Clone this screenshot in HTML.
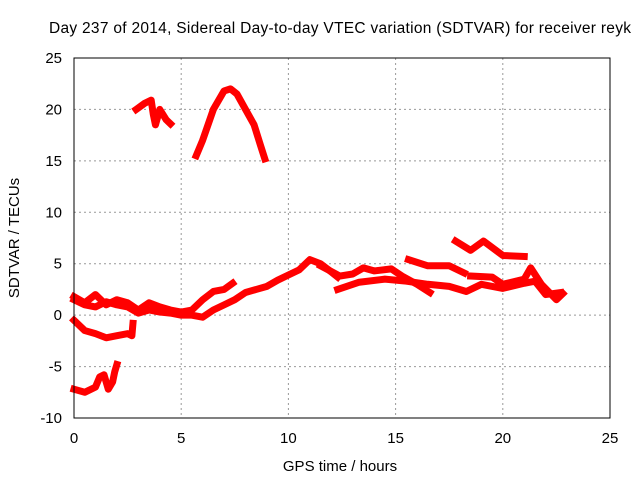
<!DOCTYPE html>
<html><head><meta charset="utf-8"><style>
body{margin:0;background:#fff}
svg{font-family:"Liberation Sans",sans-serif;font-size:15px}
</style></head><body>
<svg width="640" height="480">
<text x="340" y="33" text-anchor="middle" style="font-size:15.5px" textLength="582">Day 237 of 2014, Sidereal Day-to-day VTEC variation (SDTVAR) for receiver reyk</text>
<g id="grid"></g>
<g id="ticks"></g>
<g id="series"></g>
<rect x="74" y="58" width="536" height="360" fill="none" stroke="#000"/>
<text x="340" y="471" text-anchor="middle">GPS time / hours</text>
<text transform="translate(19,238) rotate(-90)" text-anchor="middle">SDTVAR / TECUs</text>
</svg>
<script>
const xTicks=[0,5,10,15,20,25];
const yTicks=[-10,-5,0,5,10,15,20,25];
const s1x=[0,0.5,1,1.5,2,2.5,3,3.5,4,4.5,5,5.5,6,6.5,7,7.4];
const s1y=[1.8,1.2,2,1.0,1.5,1.2,0.5,1.2,0.8,0.5,0.3,0.5,1.5,2.3,2.5,3.1];
const s2x=[0,0.5,1,1.5,2,2.5,3,3.5,4,4.5,5,5.5,6,6.5,7,7.5,8,8.5,9,9.5,10,10.5,11,11.5,12,12.3];
const s2y=[1.5,1,0.8,1.3,1,0.8,0.2,0.5,0.3,0.2,0,0,-0.2,0.5,1.0,1.5,2.2,2.5,2.8,3.4,3.9,4.4,5.4,5.0,4.2,3.7];
const s3x=[11.5,12.4,13,13.5,14,14.8,15.3,16,16.6];
const s3y=[4.8,3.8,4.0,4.6,4.3,4.5,3.8,3.0,2.2];
const s4x=[12.3,13.3,14.5,15.5,16.5,17.5,18.3,19,20,21,21.5,22,22.7];
const s4y=[2.5,3.2,3.5,3.3,3.0,2.8,2.3,3.0,2.6,3.1,3.3,2.0,2.2];
const s5x=[15.6,16.5,17.5,18.2];
const s5y=[5.4,4.8,4.8,4.1];
const s6x=[17.8,18.5,19.1,20,21];
const s6y=[7.2,6.3,7.2,5.8,5.7];
const s7x=[18.5,19.5,20,21,21.3,21.8,22.5,22.8];
const s7y=[3.8,3.7,3.0,3.5,4.6,3.0,1.5,2.1];
const s8x=[0,0.5,1,1.5,2,2.5,2.7,2.75];
const s8y=[-0.5,-1.5,-1.8,-2.2,-2.0,-1.8,-2.0,-0.8];
const s9x=[0,0.5,1,1.2,1.4,1.6,1.8,1.9,2.0];
const s9y=[-7.2,-7.5,-7.0,-6.0,-5.8,-7.2,-6.5,-5.5,-4.8];
const s10x=[2.9,3.3,3.6,3.7,3.8,4,4.3,4.5];
const s10y=[20,20.6,20.9,19.5,18.5,20,19,18.6];
const s11x=[5.7,6,6.5,7,7.3,7.6,8,8.4,8.7,8.9];
const s11y=[15.5,17,20,21.8,22,21.5,20,18.5,16.5,15.2];
const allX=[s1x,s2x,s3x,s4x,s5x,s6x,s7x,s8x,s9x,s10x,s11x];
const allY=[s1y,s2y,s3y,s4y,s5y,s6y,s7y,s8y,s9y,s10y,s11y];
const X=v=>74+v*536/25, Y=v=>418-(v+10)*360/35;
const NS="http://www.w3.org/2000/svg";
const g=document.getElementById('grid'),t=document.getElementById('ticks'),s=document.getElementById('series');
function mk(tag,a,p){const e=document.createElementNS(NS,tag);for(const k in a)e.setAttribute(k,a[k]);p.appendChild(e);return e;}
xTicks.forEach(v=>{
 if(v>0&&v<25){const l=mk('line',{x1:X(v),x2:X(v),y1:58,y2:418,stroke:'#999','stroke-dasharray':'2,3'},g);
 
 }
 const tx=mk('text',{x:X(v),y:443,'text-anchor':'middle'},t);tx.textContent=v;
 
 
});
yTicks.forEach(v=>{
 if(v>-10&&v<25){const l=mk('line',{x1:74,x2:610,y1:Y(v),y2:Y(v),stroke:'#999','stroke-dasharray':'2,3'},g);
 
 }
 const tx=mk('text',{x:62,y:Y(v)+5,'text-anchor':'end'},t);tx.textContent=v;
 
 
});
allX.forEach((xs,i)=>{
 const pts=xs.map((x,j)=>X(x)+','+Y(allY[i][j])).join(' ');
 const p=mk('polyline',{points:pts,fill:'none',stroke:'#f00','stroke-width':7,'stroke-linejoin':'round','stroke-linecap':'square'},s);
 
 
});
</script>
</body></html>
